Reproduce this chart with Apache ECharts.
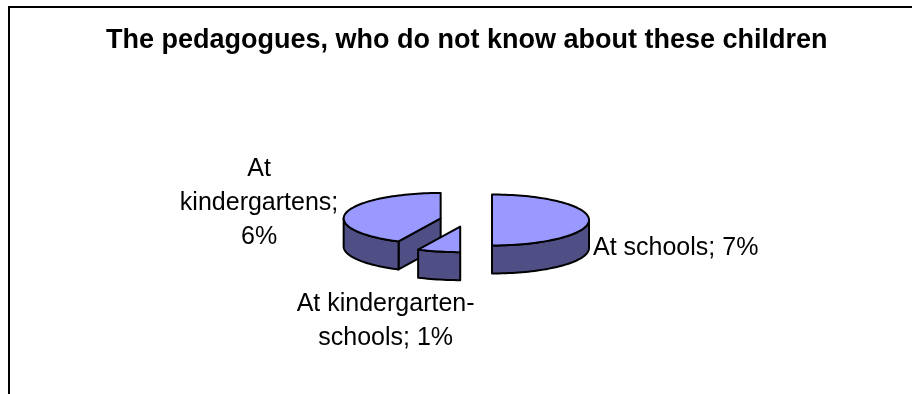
<!DOCTYPE html>
<html><head><meta charset="utf-8">
<script src="https://cdn.jsdelivr.net/npm/echarts@6/dist/echarts.min.js"></script>
<style>html,body{margin:0;padding:0;background:#fff}#c{width:912px;height:394px}</style>
</head><body><div id="c"></div>
<script>
// ---- data ----
const titleText = 'The pedagogues, who do not know about these children';
const categories = ['At schools', 'At kindergarten-\nschools', 'At\nkindergartens'];
const values = [7, 1, 6];           // percent
const valueSeparators = [' ', ' ', '\n'];

// ---- styling / geometry (not data) ----
const geo = { cx: 466, cy: 220, rx: 97, ry: 25.5, depth: 28, explode: 26 };
const labelPlacement = [
  { dx: 4, dy: 28, align: 'left' },
  { dx: -53, dy: 70, align: 'center' },
  { dx: -87, dy: -10, align: 'center' }
];
const topColor = '#9999FF';
const sideColor = '#4F4F86';
const edge = { stroke: '#000', lineWidth: 2, lineJoin: 'round' };

const total = values.reduce((a, b) => a + b, 0);

function renderItem(params, api) {
  const i = params.dataIndex;
  const v = api.value(0);
  let start = 0;
  for (let k = 0; k < i; k++) start += values[k];
  const a1 = start / total * Math.PI * 2;
  const a2 = (start + v) / total * Math.PI * 2;
  const mid = (a1 + a2) / 2;
  const k = geo.ry / geo.rx;
  const cx = geo.cx + geo.explode * Math.sin(mid);
  const cy = geo.cy - geo.explode * Math.cos(mid) * k;
  const pt = (a, dz) => [cx + geo.rx * Math.sin(a), cy - geo.ry * Math.cos(a) + (dz || 0)];
  const arc = (b1, b2, dz) => {
    const n = Math.max(2, Math.ceil((b2 - b1) / (Math.PI / 90)));
    const out = [];
    for (let j = 0; j <= n; j++) out.push(pt(b1 + (b2 - b1) * j / n, dz));
    return out;
  };
  const base = Math.round((1 - Math.cos(mid)) * 10) * 10;
  const children = [];
  const d = geo.depth;
  // radius faces
  if (Math.sin(a1) < -1e-6) {
    const p = pt(a1);
    children.push({ type: 'polygon', z2: base, shape: { points: [[cx, cy], p, [p[0], p[1] + d], [cx, cy + d]] },
      style: Object.assign({ fill: sideColor }, edge) });
  }
  if (Math.sin(a2) > 1e-6) {
    const p = pt(a2);
    children.push({ type: 'polygon', z2: base, shape: { points: [[cx, cy], p, [p[0], p[1] + d], [cx, cy + d]] },
      style: Object.assign({ fill: sideColor }, edge) });
  }
  // outer wall (front half only)
  const b1 = Math.max(a1, Math.PI / 2), b2 = Math.min(a2, Math.PI * 1.5);
  if (b2 > b1) {
    const pts = arc(b1, b2, 0).concat(arc(b1, b2, d).reverse());
    children.push({ type: 'polygon', z2: base + 1, shape: { points: pts },
      style: Object.assign({ fill: sideColor }, edge) });
  }
  // top face
  children.push({ type: 'polygon', z2: base + 2, shape: { points: [[cx, cy]].concat(arc(a1, a2, 0)) },
    style: Object.assign({ fill: topColor }, edge) });
  // label
  const lp = labelPlacement[i];
  const m = pt(mid);
  children.push({ type: 'text', z2: 200, x: m[0] + lp.dx, y: m[1] + lp.dy,
    style: { text: categories[i] + ';' + valueSeparators[i] + v + '%', fill: '#000',
      fontSize: 25, fontFamily: 'Liberation Sans', lineHeight: 34,
      align: lp.align, verticalAlign: 'middle' } });
  return { type: 'group', children };
}

const chart = echarts.init(document.getElementById('c'), null, { renderer: 'canvas' });
chart.setOption({
  animation: false,
  backgroundColor: '#fff',
  title: { text: titleText, left: 106, top: 27, padding: 0,
    textStyle: { fontFamily: 'Liberation Sans', fontSize: 27, fontWeight: 'bold', color: '#000' } },
  graphic: [{ type: 'rect', shape: { x: 9, y: 7, width: 1000, height: 500 },
    style: { fill: 'none', stroke: '#000', lineWidth: 2 }, silent: true }],
  series: [{
    type: 'custom', coordinateSystem: 'none',
    data: values.map(v => [v]),
    renderItem
  }]
});
</script></body></html>
